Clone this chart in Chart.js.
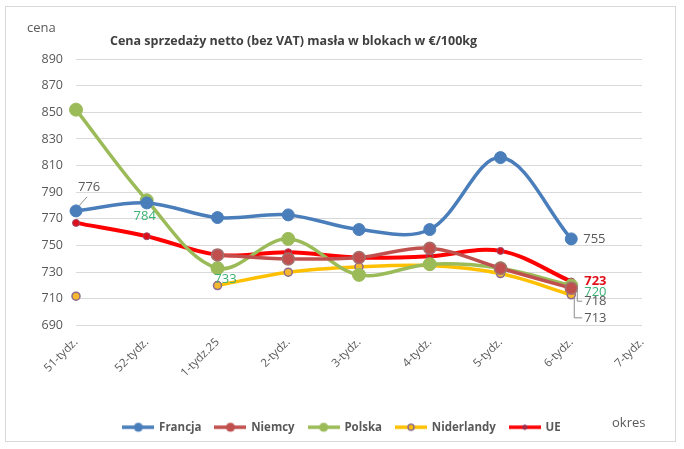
<!DOCTYPE html>
<html>
<head>
<meta charset="utf-8">
<script src="https://cdn.jsdelivr.net/npm/chart.js@4.4.1/dist/chart.umd.min.js"></script>
<style>
  html, body { margin: 0; padding: 0; background: #fff; }
  #wrap { position: relative; width: 684px; height: 449px; }
  #frame { position: absolute; left: 5px; top: 6px; width: 671px; height: 436px; border: 1px solid #d9d9d9; box-sizing: border-box; pointer-events: none; }
</style>
</head>
<body>
<div id="wrap">
  <canvas id="chart" width="684" height="449"></canvas>
  <div id="frame"></div>
</div>
<script>
// Weekly net selling price of block butter, EUR/100kg
const weeks = ['51-tydz.', '52-tydz.', '1-tydz.25', '2-tydz.', '3-tydz.', '4-tydz.', '5-tydz.', '6-tydz.', '7-tydz.'];
const francja    = [776, 782, 771, 773, 762, 762, 816, 755, null];
const niemcy     = [null, null, 743, 740, 741, 748, 733, 718, null];
const polska     = [852, 784, 733, 755, 728, 736, 733, 720, null];
const niderlandy = [712, null, 720, 730, 734, 735, 729, 713, null];
const ue         = [767, 757, 743, 745, 741, 742, 746, 723, null];
const yTicks = [690, 710, 730, 750, 770, 790, 810, 830, 850, 870, 890];

const FONT = "'Open Sans', sans-serif";
const GRAY = '#595959';
const TEAL = '#3BB273';

// legend swatch: short line with the series marker on it
function swatch(line, fill, stroke, r, bw) {
    const c = document.createElement('canvas');
    c.width = 32; c.height = 12;
    const g = c.getContext('2d');
    g.strokeStyle = line; g.lineWidth = 3.5;
    g.beginPath(); g.moveTo(0, 6); g.lineTo(32, 6); g.stroke();
    g.beginPath(); g.arc(16, 6, r, 0, Math.PI * 2);
    g.fillStyle = fill; g.fill();
    if (bw) { g.lineWidth = bw; g.strokeStyle = stroke; g.stroke(); }
    return c;
}

function series(label, data, color, width, r, fill, border, bw, legendIcon) {
    return {
        label: label,
        data: data,
        borderColor: color,
        backgroundColor: color,
        borderWidth: width,
        pointRadius: r,
        pointBackgroundColor: fill,
        pointBorderColor: border,
        pointBorderWidth: bw,
        tension: 0.35,
        spanGaps: false,
        clip: false,
        legendIcon: legendIcon
    };
}

const datasets = [
    series('Francja', francja, '#4A7EBB', 3.5, 6, '#4A7EBB', '#4A7EBB', 1, swatch('#4A7EBB', '#4A7EBB', '#4A7EBB', 4.5, 0)),
    series('Niemcy', niemcy, '#C0504D', 3.5, 6, '#C0504D', '#A4706E', 1.5, swatch('#C0504D', '#C0504D', '#C0504D', 4.5, 0)),
    series('Polska', polska, '#9BBB59', 3.5, 6.5, '#9BBB59', '#9BBB59', 1, swatch('#9BBB59', '#9BBB59', '#9BBB59', 4.5, 0)),
    series('Niderlandy', niderlandy, '#FFC000', 3.5, 4, '#F5B82E', '#8C6A8E', 1.5, swatch('#FFC000', '#FFC000', '#8C6A8E', 3, 1.5)),
    series('UE', ue, '#FF0000', 4, 3.5, '#E0101A', '#9A4A6A', 1, swatch('#FF0000', '#C0203A', '#7A3A60', 2.2, 1))
];

// data labels next to selected points: [dataset, index, text, colour, dx, dy, bold, align]
const pointLabels = [
    [0, 0, '776', GRAY, 2, -24, false, 'left'],
    [2, 1, '784', TEAL, -2, 16, false, 'center'],
    [2, 2, '733', TEAL, 8, 11, false, 'center'],
    [0, 7, '755', GRAY, 12, 0, false, 'left'],
    [4, 7, '723', '#E0101A', 13, 0, true, 'left'],
    [2, 7, '720', TEAL, 13, 7, false, 'left'],
    [1, 7, '718', GRAY, 13, 13, false, 'left'],
    [3, 7, '713', GRAY, 13, 23, false, 'left']
];

const extraText = {
    id: 'extraText',
    afterDraw(chart) {
        const ctx = chart.ctx;
        const xs = chart.scales.x, ys = chart.scales.y;
        ctx.save();
        ctx.textBaseline = 'middle';
        ctx.fillStyle = '#404040';
        ctx.font = 'bold 12.5px ' + FONT;
        ctx.textAlign = 'left';
        ctx.fillText('Cena sprzedaży netto (bez VAT) masła w blokach w €/100kg', 110, 41);
        ctx.fillStyle = GRAY;
        ctx.font = '13px ' + FONT;
        ctx.fillText('cena', 27, 28);
        ctx.fillText('okres', 612, 423);

        // leader lines
        ctx.strokeStyle = '#8c8c8c';
        ctx.lineWidth = 1;
        const p0x = xs.getPixelForValue(0), p0y = ys.getPixelForValue(francja[0]);
        ctx.beginPath(); ctx.moveTo(p0x + 3, p0y - 5); ctx.lineTo(p0x + 11, p0y - 14); ctx.stroke();
        const p7 = xs.getPixelForValue(7);
        const y718 = ys.getPixelForValue(niemcy[7]);
        const y713 = ys.getPixelForValue(niderlandy[7]);
        ctx.beginPath();
        ctx.moveTo(p7 + 6, y718 + 1); ctx.lineTo(p7 + 6, y718 + 13); ctx.lineTo(p7 + 11, y718 + 13);
        ctx.moveTo(p7 + 3, y713 + 3); ctx.lineTo(p7 + 3, y713 + 23); ctx.lineTo(p7 + 11, y713 + 23);
        ctx.stroke();

        pointLabels.forEach(([d, i, text, color, dx, dy, bold, align]) => {
            const x = xs.getPixelForValue(i) + dx;
            const y = ys.getPixelForValue(chart.data.datasets[d].data[i]) + dy;
            ctx.font = (bold ? 'bold ' : '') + '13px ' + FONT;
            ctx.fillStyle = color;
            ctx.textAlign = align;
            ctx.fillText(text, x, y);
        });
        ctx.restore();
    }
};

new Chart('chart', {
    type: 'line',
    data: { labels: weeks, datasets: datasets },
    options: {
        responsive: false,
        animation: false,
        layout: { padding: { top: 59, right: 0, bottom: 6, left: 0 } },
        plugins: {
            title: { display: false },
            tooltip: { enabled: false },
            legend: {
                position: 'bottom',
                labels: {
                    usePointStyle: true,
                    pointStyleWidth: 30,
                    padding: 14,
                    color: GRAY,
                    font: { family: FONT, size: 11.5, weight: 'bold' },
                    generateLabels(chart) {
                        return chart.data.datasets.map((ds, i) => ({
                            text: ds.label,
                            pointStyle: ds.legendIcon,
                            fontColor: GRAY,
                            lineWidth: 0,
                            strokeStyle: 'transparent',
                            fillStyle: 'transparent',
                            datasetIndex: i
                        }));
                    }
                }
            }
        },
        scales: {
            x: {
                offset: false,
                grid: { display: false },
                border: { display: false },
                ticks: {
                    minRotation: 45, maxRotation: 45,
                    color: GRAY, padding: 2,
                    font: { family: FONT, size: 11.5 }
                },
                afterFit(scale) { scale.height = 82; }
            },
            y: {
                min: 690, max: 890,
                afterBuildTicks(scale) { scale.ticks = yTicks.map(v => ({ value: v })); },
                grid: { color: '#d9d9d9', lineWidth: 1, drawTicks: false },
                border: { display: false },
                ticks: {
                    color: GRAY, padding: 13,
                    font: { family: FONT, size: 12.5 }
                },
                afterFit(scale) { scale.width = 76; }
            },
            // empty right-hand gutter so the legend stays centred on the whole frame
            gutter: {
                position: 'right',
                min: 690, max: 890,
                grid: { display: false },
                border: { display: false },
                ticks: { display: false },
                afterFit(scale) { scale.width = 42; }
            }
        }
    },
    plugins: [extraText]
});
</script>
</body>
</html>
